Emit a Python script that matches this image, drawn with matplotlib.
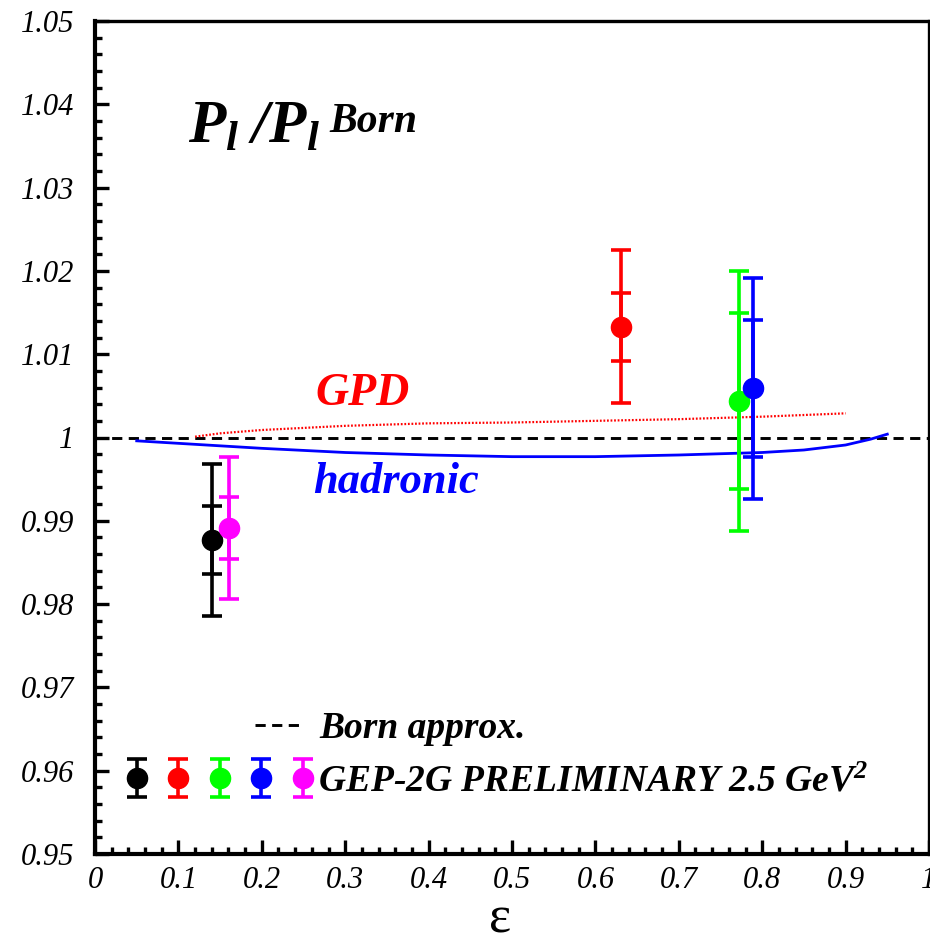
import numpy as np
import matplotlib
matplotlib.use("Agg")
import matplotlib.pyplot as plt
from matplotlib.ticker import MultipleLocator, FormatStrFormatter
from matplotlib.legend_handler import HandlerTuple

plt.rcParams['font.family'] = ['Liberation Serif', 'DejaVu Serif']
plt.rcParams['font.style'] = 'italic'
plt.rcParams['mathtext.fontset'] = 'custom'
plt.rcParams['mathtext.rm'] = 'Liberation Serif:bold:italic'
plt.rcParams['mathtext.it'] = 'Liberation Serif:bold:italic'
plt.rcParams['mathtext.bf'] = 'Liberation Serif:bold:italic'

# GEp-2gamma preliminary points: epsilon, ratio, stat and total errors
eps = [0.140, 0.631, 0.772, 0.789, 0.161]
ratio = [0.9877, 1.0133, 1.0044, 1.0059, 0.9891]
err_stat = [0.0041, 0.0041, 0.0106, 0.0082, 0.0037]
err_tot = [0.0091, 0.0092, 0.0156, 0.0133, 0.0085]
colors = ['black', 'red', '#00ff00', 'blue', 'magenta']

# theory curves
eps_had = [0.05, 0.10, 0.20, 0.30, 0.40, 0.50, 0.60, 0.70, 0.80, 0.85, 0.90, 0.93, 0.95]
had = [0.9996, 0.9993, 0.9987, 0.9982, 0.9979, 0.9977, 0.9977, 0.9979, 0.9982, 0.9985, 0.9991, 0.9998, 1.0004]
eps_gpd = [0.12, 0.15, 0.20, 0.30, 0.40, 0.50, 0.60, 0.70, 0.80, 0.90]
gpd = [1.0001, 1.0005, 1.0009, 1.0014, 1.0017, 1.0018, 1.0020, 1.0022, 1.0025, 1.0029]

fig = plt.figure(figsize=(9.3, 9.48), dpi=100)
ax = fig.add_axes([95 / 930, 94 / 948, 834 / 930, 833 / 948])

born, = ax.plot([0, 1], [1, 1], color='black', lw=2.1, ls=(0, (3.5, 2.2)), zorder=2)
ax.plot(eps_had, had, color='blue', lw=2.0, zorder=2)
ax.plot(eps_gpd, gpd, color='red', lw=1.6, ls=(0, (0.8, 0.8)), zorder=2)

handles = []
for x, y, s, t, c in zip(eps, ratio, err_stat, err_tot, colors):
    eb = ax.errorbar(x, y, yerr=t, fmt='o', color=c, ms=14.5, elinewidth=2.6,
                     capsize=7.5, capthick=2.6, zorder=3)
    ax.errorbar(x, y, yerr=s, fmt='none', ecolor=c, elinewidth=2.6,
                capsize=7.5, capthick=2.6, zorder=3)
    handles.append(eb)

ax.set_xlim(0, 1)
ax.set_ylim(0.95, 1.05)
ax.xaxis.set_major_locator(MultipleLocator(0.1))
ax.xaxis.set_minor_locator(MultipleLocator(0.02))
ax.yaxis.set_major_locator(MultipleLocator(0.01))
ax.yaxis.set_minor_locator(MultipleLocator(0.002))
ax.xaxis.set_major_formatter(FormatStrFormatter('%g'))
ax.yaxis.set_major_formatter(FormatStrFormatter('%g'))
ax.tick_params(which='both', direction='in', top=False, right=False, width=2.4)
ax.tick_params(which='major', length=10)
ax.tick_params(which='minor', length=5)
ax.tick_params(axis='y', which='major', pad=15, labelsize=22)
ax.tick_params(axis='x', which='major', pad=9, labelsize=22)
for side in ['left', 'bottom']:
    ax.spines[side].set_linewidth(3.0)
for side in ['top', 'right']:
    ax.spines[side].set_linewidth(2.4)

ax.set_xlabel('ε', fontsize=38, fontstyle='normal', va='baseline')
ax.xaxis.set_label_coords(0.486, -0.0945)

# ratio label: P_l / P_l with the "Born" superscript set by hand
ax.text(0.111, 1.0354, r'$P_l\;/P_l$', fontsize=44)
ax.text(0.281, 1.0367, 'Born', fontsize=30, fontweight='bold')
ax.text(0.264, 1.0039, 'GPD', color='red', fontsize=33, fontweight='bold')
ax.text(0.262, 0.9933, 'hadronic', color='blue', fontsize=32, fontweight='bold')

leg_font = {'family': 'Liberation Serif', 'weight': 'bold', 'style': 'italic', 'size': 27}
leg1 = ax.legend([born], ['Born approx.'], loc='center left',
                 bbox_to_anchor=(0.192, 0.151), frameon=False, prop=leg_font,
                 handlelength=1.2, handletextpad=0.5, borderpad=0, borderaxespad=0)
ax.add_artist(leg1)
ax.legend([tuple(handles)], ['GEP-2G PRELIMINARY 2.5 GeV$^2$'], loc='center left',
          bbox_to_anchor=(0.037, 0.087), frameon=False, prop=leg_font,
          handler_map={tuple: HandlerTuple(ndivide=None, pad=0.53)},
          handlelength=5.0, handletextpad=0.12, borderpad=0, borderaxespad=0)

fig.savefig('out.png', dpi=100)
